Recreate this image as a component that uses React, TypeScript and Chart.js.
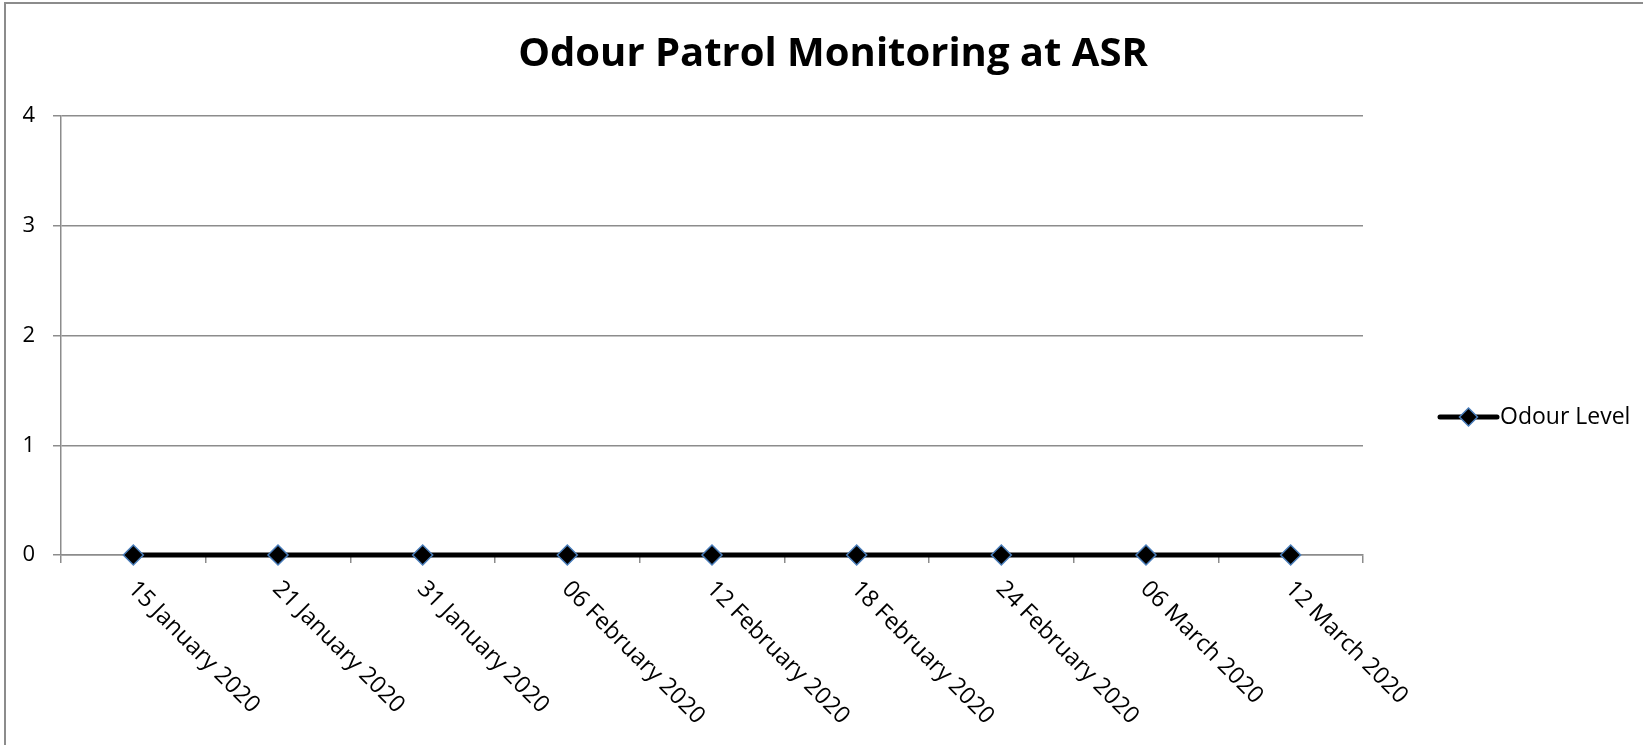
import React, { useEffect, useRef } from 'react';
import { Chart, registerables } from 'chart.js';

Chart.register(...registerables);

const chartTitle = 'Odour Patrol Monitoring at ASR';
const seriesName = 'Odour Level';
const categories = [
  '15 January 2020',
  '21 January 2020',
  '31 January 2020',
  '06 February 2020',
  '12 February 2020',
  '18 February 2020',
  '24 February 2020',
  '06 March 2020',
  '12 March 2020',
];
const odourLevel = [0, 0, 0, 0, 0, 0, 0, 0, 0];
const yMin = 0;
const yMax = 4;
const yStep = 1;

const FONT = '"Open Sans", Lato, sans-serif';
const GRID = '#8c8c8c';
const MARKER_EDGE = '#4a7ebb';

const CANVAS_W = 1654;
const CANVAS_H = 826;
const PLOT_LEFT = 55;
const PLOT_RIGHT_SPACE = 297;
const PLOT_BOTTOM = 551;

const customDraw = {
  id: 'customDraw',
  afterDraw(chart: any) {
    const ctx = chart.ctx;
    const xs = chart.scales.x;
    const area = chart.chartArea;
    // rotated (clockwise) category labels
    ctx.save();
    ctx.fillStyle = '#000';
    ctx.font = `23.5px ${FONT}`;
    ctx.textAlign = 'left';
    ctx.textBaseline = 'alphabetic';
    categories.forEach((lab, i) => {
      const x = xs.getPixelForValue(i);
      ctx.save();
      ctx.translate(x - 6.4, area.bottom + 35);
      ctx.rotate(Math.PI / 4);
      ctx.fillText(lab, 0, 0);
      ctx.restore();
    });
    ctx.restore();

    // legend
    const ds = chart.data.datasets[0];
    const ly = 413;
    const lx0 = area.right + 77;
    const lx1 = lx0 + 57;
    ctx.save();
    ctx.strokeStyle = ds.borderColor;
    ctx.lineWidth = ds.borderWidth;
    ctx.lineCap = 'round';
    ctx.beginPath();
    ctx.moveTo(lx0, ly);
    ctx.lineTo(lx1, ly);
    ctx.stroke();
    const cx = (lx0 + lx1) / 2;
    const r = 9;
    ctx.beginPath();
    ctx.moveTo(cx, ly - r);
    ctx.lineTo(cx + r, ly);
    ctx.lineTo(cx, ly + r);
    ctx.lineTo(cx - r, ly);
    ctx.closePath();
    ctx.fillStyle = ds.pointBackgroundColor;
    ctx.fill();
    ctx.lineWidth = ds.pointBorderWidth;
    ctx.strokeStyle = ds.pointBorderColor;
    ctx.stroke();
    ctx.fillStyle = '#000';
    ctx.font = `23px ${FONT}`;
    ctx.textAlign = 'left';
    ctx.textBaseline = 'middle';
    ctx.fillText(ds.label, lx1 + 3, ly);
    ctx.restore();
  },
};

export default function App() {
  const ref = useRef<HTMLCanvasElement | null>(null);

  useEffect(() => {
    if (!ref.current) return;
    const chart = new Chart(ref.current, {
      type: 'line',
      data: {
        labels: categories,
        datasets: [
          {
            label: seriesName,
            data: odourLevel,
            borderColor: '#000000',
            borderWidth: 5,
            pointStyle: 'rectRot',
            pointRadius: 10,
            pointBackgroundColor: '#000000',
            pointBorderColor: MARKER_EDGE,
            pointBorderWidth: 1.5,
            clip: false,
            tension: 0,
          } as any,
        ],
      },
      options: {
        responsive: false,
        animation: false,
        devicePixelRatio: 1,
        layout: { padding: 0 },
        plugins: {
          legend: { display: false },
          tooltip: { enabled: false },
          title: {
            display: true,
            text: chartTitle,
            color: '#000',
            font: { family: FONT, size: 40, weight: 'bold' },
            padding: { top: 27, bottom: 37 },
          },
        },
        scales: {
          x: {
            type: 'category',
            offset: true,
            grid: {
              offset: true,
              drawOnChartArea: false,
              drawTicks: true,
              tickLength: 8,
              color: GRID,
              lineWidth: 1.5,
            },
            border: { display: true, color: GRID, width: 1.5 },
            ticks: { display: false },
            afterFit: (s: any) => {
              s.height = CANVAS_H - PLOT_BOTTOM;
            },
          },
          y: {
            type: 'linear',
            min: yMin,
            max: yMax,
            ticks: {
              stepSize: yStep,
              padding: 18,
              color: '#000',
              font: { family: FONT, size: 22 },
            },
            grid: { color: GRID, lineWidth: 1.5, drawTicks: true, tickLength: 8 },
            border: { display: true, color: GRID, width: 1.5 },
            afterFit: (s: any) => {
              s.width = PLOT_LEFT;
            },
          },
          yRight: {
            type: 'linear',
            position: 'right',
            display: true,
            grid: { display: false },
            ticks: { display: false },
            border: { display: false },
            afterFit: (s: any) => {
              s.width = PLOT_RIGHT_SPACE;
            },
          },
        },
      } as any,
      plugins: [customDraw],
    });
    return () => chart.destroy();
  }, []);

  return (
    <div
      style={{
        position: 'absolute',
        left: 0,
        top: 0,
        width: 1643,
        height: 745,
        overflow: 'hidden',
        background: '#fff',
      }}
    >
      <div
        style={{
          position: 'absolute',
          left: 4,
          top: 2,
          border: `2px solid ${GRID}`,
          background: '#fff',
        }}
      >
        <canvas
          ref={ref}
          width={CANVAS_W}
          height={CANVAS_H}
          style={{ display: 'block', width: CANVAS_W, height: CANVAS_H }}
        />
      </div>
    </div>
  );
}
